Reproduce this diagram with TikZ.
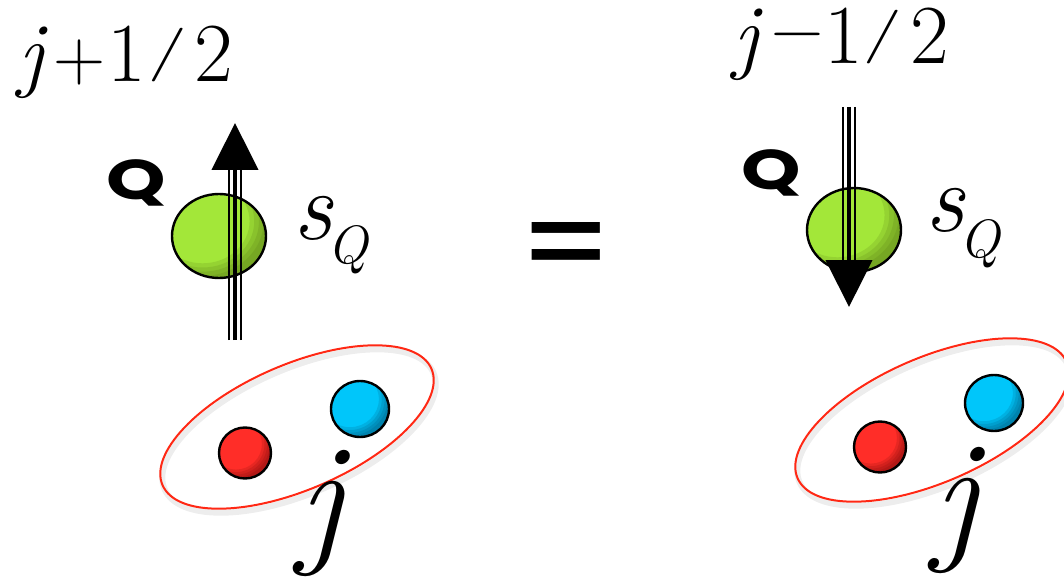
\documentclass[tikz,border=0pt]{standalone}
\usepackage{fontspec}
\newfontfamily\qfont{Poppins}
\newfontfamily\eqfont{Liberation Sans}
\usetikzlibrary{shapes.geometric,arrows.meta}
\definecolor{gfill}{RGB}{163,231,57}
\definecolor{gdark}{RGB}{70,100,15}
\definecolor{bfill}{RGB}{0,198,250}
\definecolor{bdark}{RGB}{0,60,95}
\definecolor{rfill}{RGB}{255,45,40}
\definecolor{rdark}{RGB}{100,5,5}
\definecolor{ringred}{RGB}{255,40,20}
% ball: name, x, y, rx, ry, base colour, dark colour
\newcommand\drawmyball[7]{%
  \begin{scope}
    \clip (#2,#3) ellipse [x radius=#4pt, y radius=#5pt];
    \fill[#6] (#2,#3) ellipse [x radius=#4pt, y radius=#5pt];
    \foreach \k in {1.0,1.1,1.2,1.3}{%
      \fill[#7, opacity=0.15, even odd rule] (#2,#3) ellipse [x radius={2*#4pt}, y radius={2*#5pt}]
        ({#2-0.35*#4},{#3-0.35*#5}) ellipse [x radius={\k*#4pt}, y radius={\k*#5pt}];
    }
  \end{scope}
  \node[ballnode, minimum width={2*#4pt}, minimum height={2*#5pt}] (#1) at (#2,#3) {};
}
\begin{document}
\begin{tikzpicture}[x=1pt,y=-1pt,
  lab/.style={inner sep=0pt, anchor=base},
  small/.style={font=\fontsize{84}{96}\selectfont},
  smallit/.style={font=\itshape\fontsize{84}{96}\selectfont},
  op/.style={inner sep=0pt, font=\fontsize{84}{96}\selectfont, scale=0.86},
  slash/.style={inner sep=0pt, anchor=south, yscale=0.64, font=\fontsize{84}{96}\selectfont},
  sfont/.style={font=\itshape\fontsize{98}{110}\selectfont},
  qsub/.style={font=\itshape\fontsize{54}{64}\selectfont},
  bigj/.style={font=\itshape\fontsize{148}{170}\selectfont},
  ballnode/.style={ellipse, draw=black, line width=2.4pt, inner sep=0pt},
  ring/.style={ellipse, draw=ringred, line width=2pt, inner sep=0pt, minimum width=293pt, minimum height=125pt, rotate=23.4},
  ringshadow/.style={ellipse, draw=black, opacity=0.07, line width=6pt, inner sep=0pt, minimum width=293pt, minimum height=125pt, rotate=23.4},
  qlab/.style={inner sep=0pt, font=\qfont\bfseries\fontsize{56}{64}\selectfont, xscale=1.35},
  shaft/.style={line width=2.2pt},
  mainshaft/.style={line width=4.5pt, -{Triangle[width=46pt,length=47pt]}}
]
\useasboundingbox (0,0) rectangle (1064,577);

% ---------- left group ----------
\node[ringshadow] (ringls) at (299,431) {};
\node[ring] (ringl) at (297,427) {};
\drawmyball{redl}{245}{453}{26}{25.5}{rfill}{rdark}
\drawmyball{bluel}{360}{409}{29}{28}{bfill}{bdark}
\drawmyball{greenl}{219}{236}{47}{42}{gfill}{gdark}

\coordinate (lbot) at (235,340);
\coordinate (lbase) at (235,168);
\coordinate (ltip) at (235,123);
\draw[mainshaft] (lbot) -- (ltip);
\draw[shaft] ([xshift=-6pt]lbot) -- ([xshift=-6pt]lbase);
\draw[shaft] ([xshift=6pt]lbot) -- ([xshift=6pt]lbase);

\node[lab, smallit] (lj) at (31.5,82) {j};
\node[op] (lp) at (79.5,62) {+};
\node[lab, small] (l1) at (126.5,82) {1};
\node[slash] (lsl) at (167.5,82) {/};
\node[lab, small] (l2) at (214,82) {2};

\node[qlab] (ql) at (136.5,183) {Q};
\node[lab, sfont] (sl) at (313,239) {s};
\node[lab, qsub] (sql) at (348,263) {Q};
\node[lab, bigj] (jl) at (321,546) {j};

% ---------- equals ----------
\node[inner sep=0pt, font=\eqfont\bfseries\fontsize{100}{120}\selectfont, xscale=1.36] (eq) at (566,248) {=};

% ---------- right group ----------
\node[ringshadow] (ringrs) at (934,424) {};
\node[ring] (ringr) at (932,420) {};
\drawmyball{redr}{880}{447}{26}{25.5}{rfill}{rdark}
\drawmyball{bluer}{994}{403}{29}{28}{bfill}{bdark}
\drawmyball{greenr}{854}{230}{47}{42}{gfill}{gdark}

\coordinate (rtop) at (849,107);
\coordinate (rbase) at (849,262);
\coordinate (rtip) at (849,307);
\draw[mainshaft] (rtop) -- (rtip);
\draw[shaft] ([xshift=-6pt]rtop) -- ([xshift=-6pt]rbase);
\draw[shaft] ([xshift=6pt]rtop) -- ([xshift=6pt]rbase);

\node[lab, smallit] (rj) at (746.5,64) {j};
\node[op] (rm) at (797,43) {−};
\node[lab, small] (r1) at (844,64) {1};
\node[slash] (rsl) at (882.5,64) {/};
\node[lab, small] (r2) at (930,64) {2};

\node[qlab] (qr) at (771.5,172.5) {Q};
\node[lab, sfont] (sr) at (945.5,232) {s};
\node[lab, qsub] (sqr) at (979.5,257) {Q};
\node[lab, bigj] (jr) at (956,543) {j};
\end{tikzpicture}
\end{document}
